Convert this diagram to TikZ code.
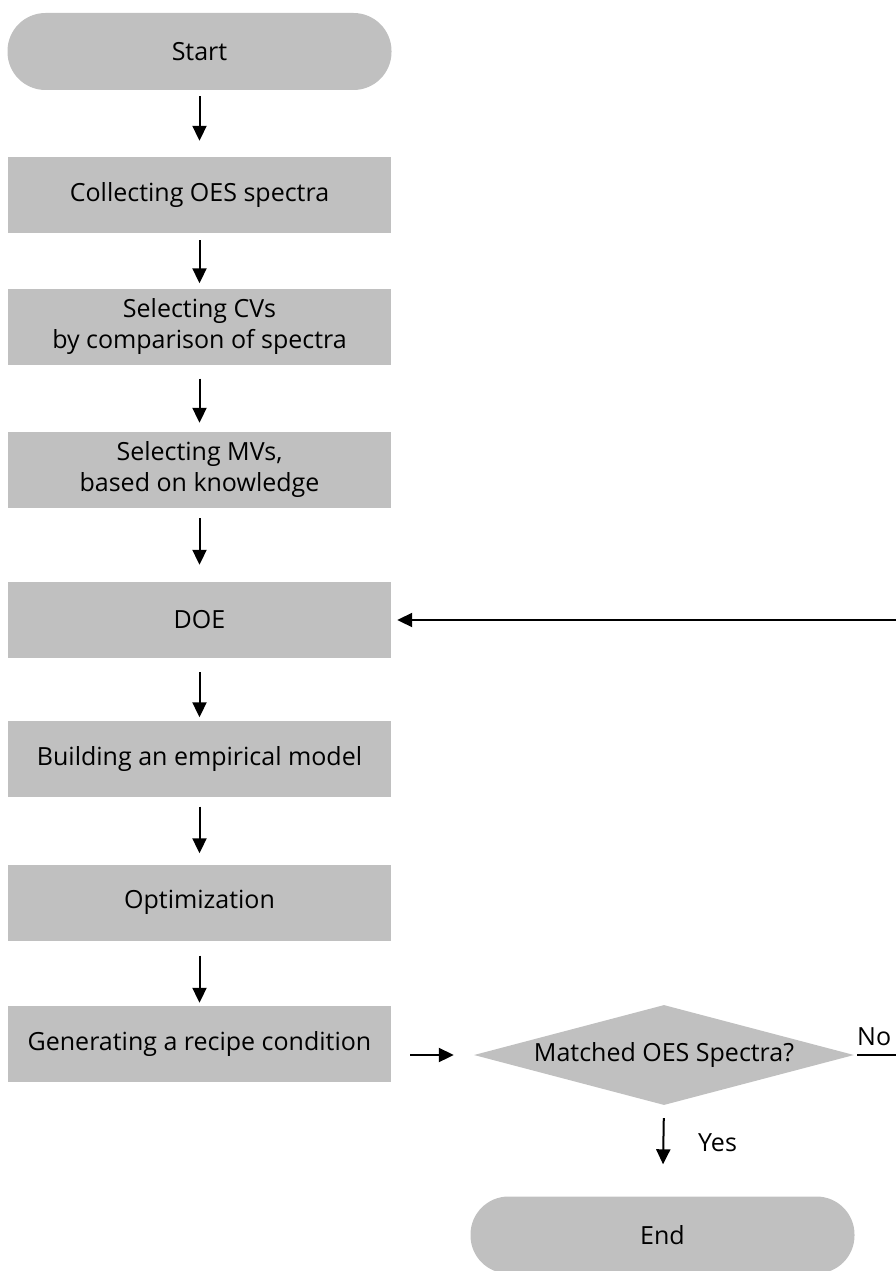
\documentclass[tikz,border=0pt]{standalone}
\usepackage{fontspec}
\setmainfont{Open Sans}
\usetikzlibrary{arrows.meta,shapes.geometric}
\definecolor{boxgray}{HTML}{C0C0C0}
\tikzset{
  stepbox/.style={fill=boxgray, draw=none, minimum width=383pt, minimum height=76pt, inner sep=0pt, align=center, font=\fontsize{25}{31}\selectfont},
  pill/.style={fill=boxgray, draw=none, minimum width=384pt, minimum height=77pt, rounded corners=38pt, inner sep=0pt, font=\fontsize{25}{31}\selectfont},
  decision/.style={diamond, aspect=3.8, fill=boxgray, draw=none, minimum width=380pt, minimum height=100pt, inner sep=0pt, font=\fontsize{25}{31}\selectfont},
  arr/.style={line width=2pt, -{Triangle[length=15pt,width=14pt]}},
  lbl/.style={font=\fontsize{25}{31}\selectfont, inner sep=0pt}
}
\begin{document}
\begin{tikzpicture}[x=1pt,y=-1pt]
\useasboundingbox (0,0) rectangle (896,1271);
\node[pill] (start) at (199.5,51.5) {Start};
\node[stepbox] (collect) at (199.5,195) {Collecting OES spectra};
\node[stepbox] (cvs) at (199.5,326.5) {Selecting CVs\\by comparison of spectra};
\node[stepbox] (mvs) at (199.5,470) {Selecting MVs,\\based on knowledge};
\node[stepbox] (doe) at (199.5,620) {DOE};
\node[stepbox] (build) at (199.5,758.5) {Building an empirical model};
\node[stepbox] (opt) at (199.5,902.5) {Optimization};
\node[stepbox] (gen) at (199.5,1044) {Generating a recipe condition};
\node[decision] (match) at (664,1055) {Matched OES Spectra?};
\node[pill] (end) at (662.5,1235) {End};
\coordinate (noend) at (896,1055);
\coordinate (back) at (896,620);

\draw[arr, shorten <=6pt, shorten >=16pt] (start.south) -- (collect.north);
\draw[arr, shorten <=7pt, shorten >=5pt] (collect.south) -- (cvs.north);
\draw[arr, shorten <=14pt, shorten >=9pt] (cvs.south) -- (mvs.north);
\draw[arr, shorten <=10pt, shorten >=17pt] (mvs.south) -- (doe.north);
\draw[arr, shorten <=14pt, shorten >=3pt] (doe.south) -- (build.north);
\draw[arr, shorten <=10pt, shorten >=11pt] (build.south) -- (opt.north);
\draw[arr, shorten <=15pt, shorten >=3pt] (opt.south) -- (gen.north);
\draw[arr, shorten <=19pt, shorten >=20pt] (gen.east |- match) -- (match.west);
\draw[arr, shorten <=13pt, shorten >=32pt] (match.south) -- (end.north);
\draw[line width=2pt, shorten <=3pt] (match.east) -- (noend);
\draw[arr, shorten >=6pt] (back) -- (doe.east);
\node[lbl, anchor=south west] (no) at (857,1046) {No};
\node[lbl, anchor=west] (yes) at (698,1143) {Yes};
\end{tikzpicture}
\end{document}
